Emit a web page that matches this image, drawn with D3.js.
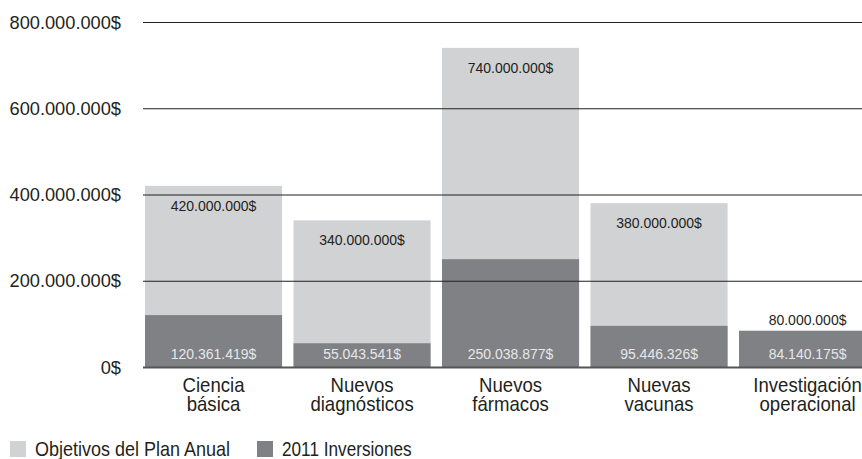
<!DOCTYPE html>
<html>
<head>
<meta charset="utf-8">
<script src="https://cdn.jsdelivr.net/npm/d3@7"></script>
<style>
  body { margin: 0; background: #fff; }
  svg text { font-family: "Liberation Sans", Arial, sans-serif; fill: #231f20; }
</style>
</head>
<body>
<svg id="chart"></svg>
<script>
// datos
const categorias = [["Ciencia", "básica"], ["Nuevos", "diagnósticos"], ["Nuevos", "fármacos"], ["Nuevas", "vacunas"], ["Investigación", "operacional"]];
const objetivos = [420000000, 340000000, 740000000, 380000000, 80000000];
const inversiones = [120361419, 55043541, 250038877, 95446326, 84140175];
const ticks = [0, 200000000, 400000000, 600000000, 800000000];
const leyenda = ["Objetivos del Plan Anual", "2011 Inversiones"];

const width = 862, height = 459;
const colorClaro = "#d1d2d4", colorOscuro = "#808184";

const svg = d3.select("#chart").attr("width", width).attr("height", height);

const locale = d3.formatLocale({decimal: ",", thousands: ".", grouping: [3], currency: ["", "$"]});
const fmt = locale.format("$,");

const x = d3.scaleBand().domain(d3.range(categorias.length)).range([139.3, 881.8]).paddingInner(0.077).paddingOuter(0.0385);
const y = d3.scaleLinear().domain([0, 800000000]).range([367, 22]);

// la fuente original es condensada: se estrecha el texto en horizontal
const estrecho = (px, py, s) => `translate(${px},${py}) scale(${s},1)`;

// barras claras (objetivos)
svg.append("g").selectAll("rect").data(objetivos).join("rect")
    .attr("x", (d, i) => x(i))
    .attr("width", x.bandwidth())
    .attr("y", d => y(d))
    .attr("height", d => y(0) - y(d))
    .attr("fill", colorClaro)

// barras oscuras (inversiones)
svg.append("g").selectAll("rect").data(inversiones).join("rect")
    .attr("x", (d, i) => x(i))
    .attr("width", x.bandwidth())
    .attr("y", d => y(d))
    .attr("height", d => y(0) - y(d))
    .attr("fill", colorOscuro)

// lineas de grilla y etiquetas del eje
const eje = svg.append("g").attr("transform", "translate(143,0)")
    .call(d3.axisLeft(y).tickValues(ticks).tickFormat(fmt).tickSize(-(width - 143)).tickPadding(22))
eje.select(".domain").remove()
eje.selectAll(".tick line").attr("stroke", "#231f20").attr("stroke-width", 1.2)
    .filter(d => d === 0).attr("stroke", "#555").attr("stroke-width", 1.8)
eje.selectAll(".tick text")
    .attr("x", 0)
    .attr("transform", "translate(-22,0) scale(0.96,1)")
    .attr("font-size", 19).attr("fill", "#231f20")
    .style("font-family", '"Liberation Sans", Arial, sans-serif')

// etiquetas de valores
svg.append("g").selectAll("text").data(objetivos).join("text")
    .attr("transform", (d, i) => estrecho(x(i) + x.bandwidth() / 2, d >= inversiones[i] ? y(d) + 25 : y(inversiones[i]) - 6, 1))
    .attr("text-anchor", "middle")
    .attr("font-size", 14)
    .text(d => fmt(d))

svg.append("g").selectAll("text").data(inversiones).join("text")
    .attr("transform", (d, i) => estrecho(x(i) + x.bandwidth() / 2, y(0) - 8, 1))
    .attr("text-anchor", "middle")
    .attr("font-size", 14)
    .style("fill", "#e6e7e8")
    .text(d => fmt(d))

// categorias
const cat = svg.append("g").selectAll("text").data(categorias).join("text")
    .attr("transform", (d, i) => estrecho(x(i) + x.bandwidth() / 2, 391.5, 0.93))
    .attr("text-anchor", "middle")
    .attr("font-size", 20)
cat.selectAll("tspan").data(d => d).join("tspan")
    .attr("x", 0)
    .attr("dy", (d, i) => i === 0 ? 0 : 20)
    .text(d => d)

// leyenda
const leg = svg.append("g").selectAll("g").data(leyenda).join("g")
    .attr("transform", (d, i) => `translate(${i === 0 ? 10 : 257},441)`)
leg.append("rect").attr("width", 16).attr("height", 16)
    .attr("fill", (d, i) => i === 0 ? colorClaro : colorOscuro)
leg.append("text").attr("transform", (d, i) => estrecho(25, 15, i === 0 ? 0.9 : 0.86)).attr("font-size", 20).text(d => d)
</script>
</body>
</html>
